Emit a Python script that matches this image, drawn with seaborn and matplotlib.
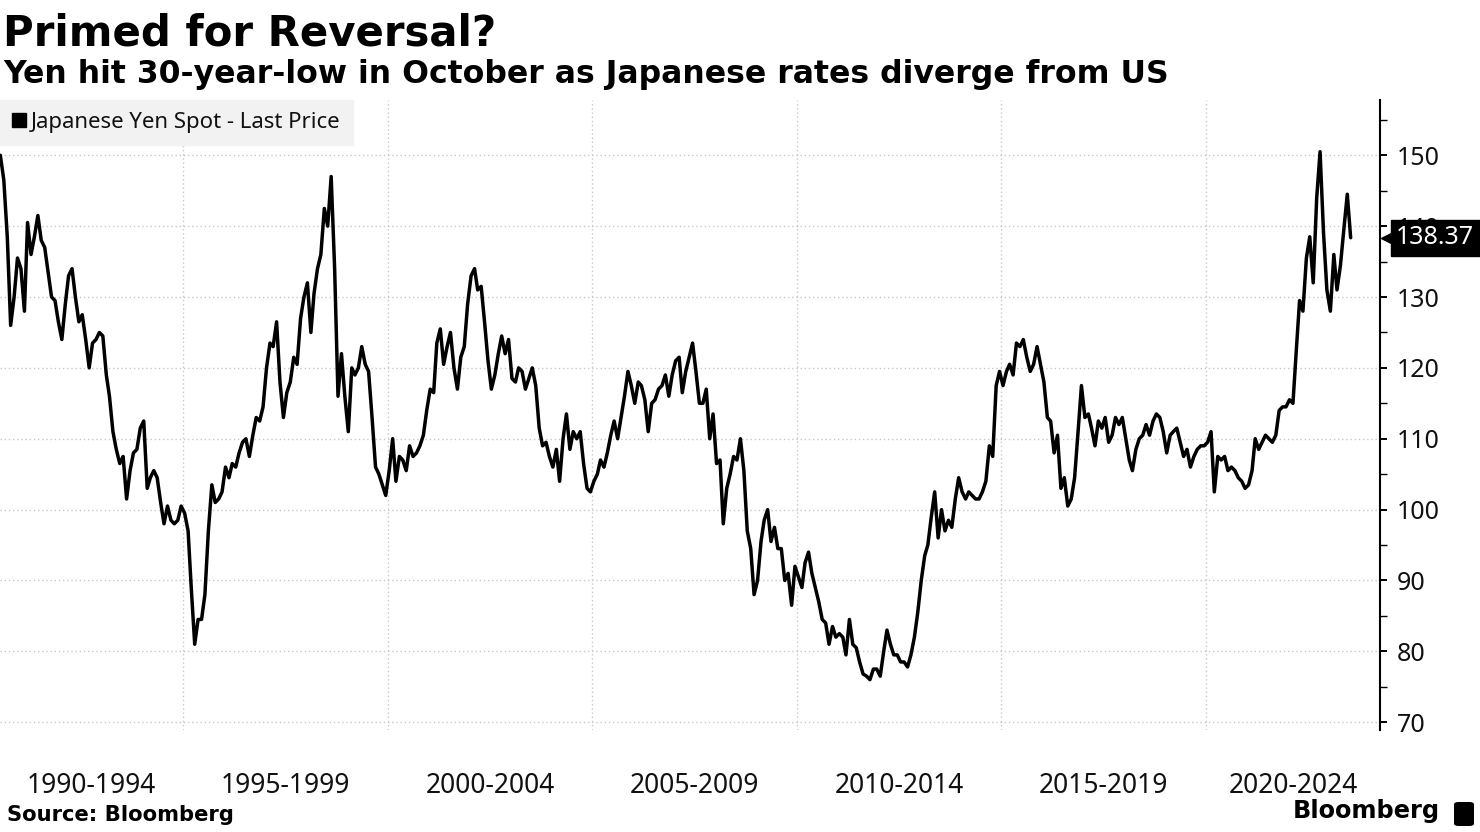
import numpy as np
import pandas as pd
import matplotlib
matplotlib.use("Agg")
import matplotlib.pyplot as plt
import matplotlib.dates as mdates
import matplotlib.transforms as mtransforms
from matplotlib.lines import Line2D
from matplotlib.patches import FancyBboxPatch
import seaborn as sns

# USD/JPY ("Japanese Yen Spot - Last Price"), monthly readings
# 1990 Jul - 1994 Dec
yen_1990_1994 = [
    150.0, 146.5, 138.5, 126.0, 130.0, 135.5,
    134.0, 128.0, 140.5, 136.0, 138.5, 141.5, 138.0, 137.0, 133.5, 130.0, 129.5, 126.5,
    124.0, 129.0, 133.0, 134.0, 130.0, 126.5, 127.5, 124.0, 120.0, 123.5, 124.0, 125.0,
    124.5, 119.0, 116.0, 111.0, 108.5, 106.5, 107.5, 101.5, 105.5, 108.0, 108.5, 111.5,
    112.5, 103.0, 104.5, 105.5, 104.5, 101.0, 98.0, 100.5, 98.5, 98.0, 98.5, 100.5,
]
yen_1995_1999 = [
    99.5, 97.0, 89.0, 81.0, 84.5, 84.5, 88.0, 97.0, 103.5, 101.0, 101.5, 102.5,
    106.0, 104.5, 106.5, 106.0, 108.0, 109.5, 110.0, 107.5, 110.5, 113.0, 112.5, 114.5,
    120.0, 123.5, 123.0, 126.5, 118.0, 113.0, 116.5, 118.0, 121.5, 120.5, 127.0, 130.0,
    132.0, 125.0, 130.5, 134.0, 136.0, 142.5, 140.0, 147.0, 134.0, 116.0, 122.0, 116.0,
    111.0, 120.0, 119.0, 120.0, 123.0, 120.5, 119.5, 113.0, 106.0, 105.0, 103.5, 102.0,
]
yen_2000_2004 = [
    105.5, 110.0, 104.0, 107.5, 107.0, 105.5, 109.0, 107.5, 108.0, 109.0, 110.5, 114.0,
    117.0, 116.5, 123.5, 125.5, 120.5, 123.0, 125.0, 120.0, 117.0, 121.5, 123.0, 129.0,
    133.0, 134.0, 131.0, 131.5, 126.5, 121.0, 117.0, 119.0, 122.0, 124.5, 122.0, 124.0,
    118.5, 118.0, 120.0, 119.5, 117.0, 118.5, 120.0, 117.5, 111.5, 109.0, 109.5, 107.5,
    106.0, 108.5, 104.0, 110.0, 113.5, 108.5, 111.0, 110.0, 111.0, 106.5, 103.0, 102.5,
]
yen_2005_2009 = [
    104.0, 105.0, 107.0, 106.0, 108.0, 110.5, 112.5, 110.0, 113.0, 116.0, 119.5, 117.5,
    115.0, 118.0, 117.5, 115.5, 111.0, 115.0, 115.5, 117.0, 117.5, 119.0, 116.0, 119.0,
    121.0, 121.5, 116.5, 119.5, 121.5, 123.5, 119.5, 115.0, 115.0, 117.0, 110.0, 113.5,
    106.5, 107.0, 98.0, 103.0, 105.0, 107.5, 107.0, 110.0, 105.5, 97.0, 94.5, 88.0,
    90.0, 95.5, 98.5, 100.0, 95.5, 97.5, 94.5, 94.5, 90.0, 91.0, 86.5, 92.0,
]
yen_2010_2014 = [
    90.5, 89.0, 92.5, 94.0, 91.0, 89.0, 87.0, 84.5, 84.0, 81.0, 83.5, 82.0,
    82.5, 82.0, 79.5, 84.5, 81.0, 80.5, 78.5, 76.8, 76.5, 76.0, 77.5, 77.5,
    76.5, 80.0, 83.0, 81.0, 79.5, 79.5, 78.5, 78.5, 77.8, 79.5, 82.0, 85.5,
    90.0, 93.5, 95.0, 99.0, 102.5, 96.0, 100.0, 97.0, 98.5, 97.5, 101.5, 104.5,
    102.5, 101.5, 102.5, 102.0, 101.5, 101.5, 102.5, 104.0, 109.0, 107.5, 117.5, 119.5,
]
yen_2015_2019 = [
    117.5, 119.5, 120.5, 119.0, 123.5, 123.0, 124.0, 121.5, 119.5, 120.5, 123.0, 120.5,
    118.0, 113.0, 112.5, 108.0, 110.5, 103.0, 104.5, 100.5, 101.5, 104.5, 111.0, 117.5,
    113.0, 113.5, 111.5, 109.0, 112.5, 111.5, 113.0, 109.5, 110.5, 113.0, 112.0, 113.0,
    110.0, 107.0, 105.5, 108.5, 110.0, 110.5, 112.0, 110.5, 112.5, 113.5, 113.0, 111.0,
    108.0, 110.5, 111.0, 111.5, 109.5, 107.5, 108.5, 106.0, 107.5, 108.5, 109.0, 109.0,
]
# 2020 Jan - 2023 Jul
yen_2020_2023 = [
    109.5, 111.0, 102.5, 107.5, 107.0, 107.5, 105.5, 106.0, 105.5, 104.5, 104.0, 103.0,
    103.5, 105.5, 110.0, 108.5, 109.5, 110.5, 110.0, 109.5, 110.5, 114.0, 114.5, 114.5,
    115.5, 115.0, 122.0, 129.5, 128.0, 135.5, 138.5, 132.0, 144.0, 150.5, 139.0, 131.0,
    128.0, 136.0, 131.0, 134.5, 139.5, 144.5, 138.37,
]

period_labels = ["1990-1994", "1995-1999", "2000-2004", "2005-2009",
                 "2010-2014", "2015-2019", "2020-2024"]
period_starts = [1990, 1995, 2000, 2005, 2010, 2015, 2020]
last_price = 138.37

prices = (yen_1990_1994 + yen_1995_1999 + yen_2000_2004 + yen_2005_2009
          + yen_2010_2014 + yen_2015_2019 + yen_2020_2023)
dates = pd.date_range("1990-07-01", "2023-07-01", freq="MS") + pd.Timedelta(days=14)
df = pd.DataFrame({"date": dates, "price": prices})

sns.set_theme(style="white")
plt.rcParams["font.family"] = ["Noto Sans", "DejaVu Sans"]
plt.rcParams["text.color"] = "black"

fig = plt.figure(figsize=(14.8, 8.32), dpi=100)
ax = fig.add_axes([0, 102 / 832, 1380 / 1480, 630 / 832])

sns.lineplot(data=df, x="date", y="price", color="black", linewidth=2.5,
             ax=ax, legend=False)

xmin = mdates.date2num(pd.Timestamp("1990-07-12"))
xmax = mdates.date2num(pd.Timestamp("2024-04-02"))
ax.set_xlim(xmin, xmax)
ax.set_ylim(68.9, 157.8)

# grid: vertical lines at period boundaries, horizontal every 10
bounds = [mdates.date2num(pd.Timestamp(f"{y}-01-01")) for y in period_starts[1:]]
ax.set_xticks(bounds)
ax.set_xticklabels([])
centers = []
for y in period_starts:
    a = max(mdates.date2num(pd.Timestamp(f"{y}-01-01")), xmin)
    b = min(mdates.date2num(pd.Timestamp(f"{y + 5}-01-01")), xmax)
    centers.append((a + b) / 2)
ax.set_xticks(centers, minor=True)
ax.set_xticklabels(period_labels, minor=True, fontsize=19, color="#111111")
ax.tick_params(axis="x", which="both", length=0)
ax.tick_params(axis="x", which="minor", pad=30)

ax.yaxis.tick_right()
ax.set_yticks(list(range(70, 151, 10)))
ax.set_yticks(list(range(75, 156, 10)), minor=True)
ax.tick_params(axis="y", which="major", length=5, width=1.4, pad=7,
               labelsize=18, colors="black", labelcolor="#111111")
ax.tick_params(axis="y", which="minor", length=5, width=1.0, colors="black")

ax.grid(True, which="major", color="#c8c8c8", linestyle=(0, (1, 2)), linewidth=1)
ax.set_axisbelow(True)
for side in ["left", "top", "bottom"]:
    ax.spines[side].set_visible(False)
ax.spines["right"].set_color("black")
ax.spines["right"].set_linewidth(1.5)
ax.set_xlabel("")
ax.set_ylabel("")

handle = Line2D([0], [0], marker="s", color="black", linestyle="None", markersize=10)
ax.legend([handle], ["Japanese Yen Spot - Last Price"], loc="upper left",
          bbox_to_anchor=(0, 1), borderaxespad=0, frameon=True, fancybox=False,
          facecolor="#f2f2f2", edgecolor="#f2f2f2", framealpha=1, fontsize=16,
          handlelength=0.6, handletextpad=0.25, borderpad=0.55,
          labelcolor="#111111")

# last value tag on the axis: notch + box
notch = mtransforms.offset_copy(ax.get_yaxis_transform(), fig=fig, x=9, y=0, units="dots")
ax.plot([1.0], [last_price], marker="<", markersize=11, color="black",
        transform=notch, clip_on=False, zorder=9)
ax.annotate(f"{last_price:.2f}", xy=(1.0, last_price),
            xycoords=ax.get_yaxis_transform(), xytext=(16, 0),
            textcoords="offset pixels", ha="left", va="center", fontsize=18,
            color="white", zorder=10, annotation_clip=False,
            bbox=dict(boxstyle="square,pad=0.22", fc="black", ec="black"))

fig.text(0.002, 1 - 45 / 832, "Primed for Reversal?", fontsize=30.2,
         fontweight="bold", family="DejaVu Sans", va="baseline", color="black")
fig.text(0.002, 1 - 83 / 832,
         "Yen hit 30-year-low in October as Japanese rates diverge from US",
         fontsize=22.7, fontweight="bold", family="DejaVu Sans", va="baseline",
         color="black")
fig.text(7 / 1480, 1 - 821 / 832, "Source: Bloomberg", fontsize=15.2,
         fontweight="bold", family="DejaVu Sans", va="baseline", color="black")
fig.text(1440 / 1480, 1 - 818 / 832, "Bloomberg", fontsize=17.3,
         fontweight="bold", family="DejaVu Sans", va="baseline", ha="right",
         color="black")
fig.patches.append(FancyBboxPatch((1454 / 1480, 6 / 832), 20 / 1480, 24 / 832,
                                  boxstyle="round,pad=0,rounding_size=0.003",
                                  transform=fig.transFigure, fc="black", ec="none"))

fig.savefig("out.png", dpi=100)
